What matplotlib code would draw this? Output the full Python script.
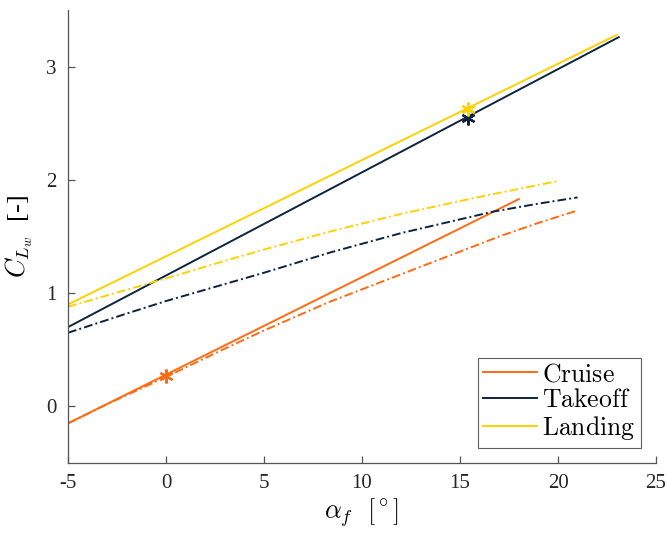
import matplotlib.pyplot as plt
import numpy as np

plt.rcParams['font.family'] = ['Liberation Serif', 'DejaVu Serif']
plt.rcParams['mathtext.fontset'] = 'cm'

# linear lift curves (solid)
cruise_a = [-5, 18]
cruise_cl = [-0.15, 1.83]
takeoff_a = [-5, 23.1]
takeoff_cl = [0.70, 3.26]
landing_a = [-5, 23.0]
landing_cl = [0.90, 3.28]

# non-linear lift curves (dash-dot)
cruise_nl_a = [-5, -3, 0, 3, 5, 8.3, 11.3, 14, 17, 19, 21]
cruise_nl_cl = [-0.15, 0.02, 0.26, 0.51, 0.67, 0.92, 1.12, 1.30, 1.50, 1.62, 1.73]
takeoff_nl_a = [-5, -2, 0, 3, 5, 8.4, 12, 16.7, 19, 21]
takeoff_nl_cl = [0.65, 0.82, 0.93, 1.08, 1.18, 1.36, 1.53, 1.72, 1.79, 1.845]
landing_nl_a = [-5, -2, 0, 3.3, 5, 8.4, 12, 16, 18, 20]
landing_nl_cl = [0.88, 1.03, 1.13, 1.30, 1.385, 1.545, 1.70, 1.85, 1.92, 1.99]

# design points
pt_a = [0, 15.4, 15.4]
pt_cl = [0.27, 2.55, 2.63]

c_cruise = '#FF6A13'
c_takeoff = '#0C2340'
c_landing = '#FFD100'

fig = plt.figure(figsize=(6.67, 5.39), dpi=100)
ax = fig.add_axes([0.102, 0.141, 0.8815, 0.8405])

ax.plot(cruise_a, cruise_cl, color=c_cruise, lw=1.4, label=r'$\mathrm{Cruise}$')
ax.plot(takeoff_a, takeoff_cl, color=c_takeoff, lw=1.4, label=r'$\mathrm{Takeoff}$')
ax.plot(landing_a, landing_cl, color=c_landing, lw=1.4, label=r'$\mathrm{Landing}$')
dd = (4.5, 1.6, 1, 1.6)
ax.plot(cruise_nl_a, cruise_nl_cl, color=c_cruise, lw=1.4, dashes=dd)
ax.plot(takeoff_nl_a, takeoff_nl_cl, color=c_takeoff, lw=1.4, dashes=dd)
ax.plot(landing_nl_a, landing_nl_cl, color=c_landing, lw=1.4, dashes=dd)

for a, cl, c in zip(pt_a, pt_cl, [c_cruise, c_takeoff, c_landing]):
    ax.plot(a, cl, marker=(6, 2, 0), color=c, ms=10, mew=1.6, ls='none')

ax.set_xlim(-5, 25)
ax.set_ylim(-0.5, 3.5)
ax.set_xticks(np.arange(-5, 26, 5))
ax.set_yticks([0, 1, 2, 3])
ax.set_xticklabels(['-5', '0', '5', '10', '15', '20', '25'])

for s in ['top', 'right']:
    ax.spines[s].set_visible(False)
for s in ['left', 'bottom']:
    ax.spines[s].set_color('#555555')
    ax.spines[s].set_linewidth(0.9)
ax.tick_params(direction='in', length=5, width=0.9, color='#555555',
               labelsize=15, labelcolor='#262626', pad=8)

ax.set_xlabel(r'$\alpha_f\ \ [^\circ]$', fontsize=19, labelpad=2)
ax.set_ylabel(r'$C_{L_w}$  [-]', fontsize=19, labelpad=8)

leg = ax.legend(loc='lower right', fontsize=18.5, frameon=True, fancybox=False,
                edgecolor='#333333', borderpad=0.2, labelspacing=0.1,
                handlelength=2.1, handletextpad=0.2, borderaxespad=0.6)
leg.get_frame().set_linewidth(0.8)

fig.savefig('out.png', dpi=100)
